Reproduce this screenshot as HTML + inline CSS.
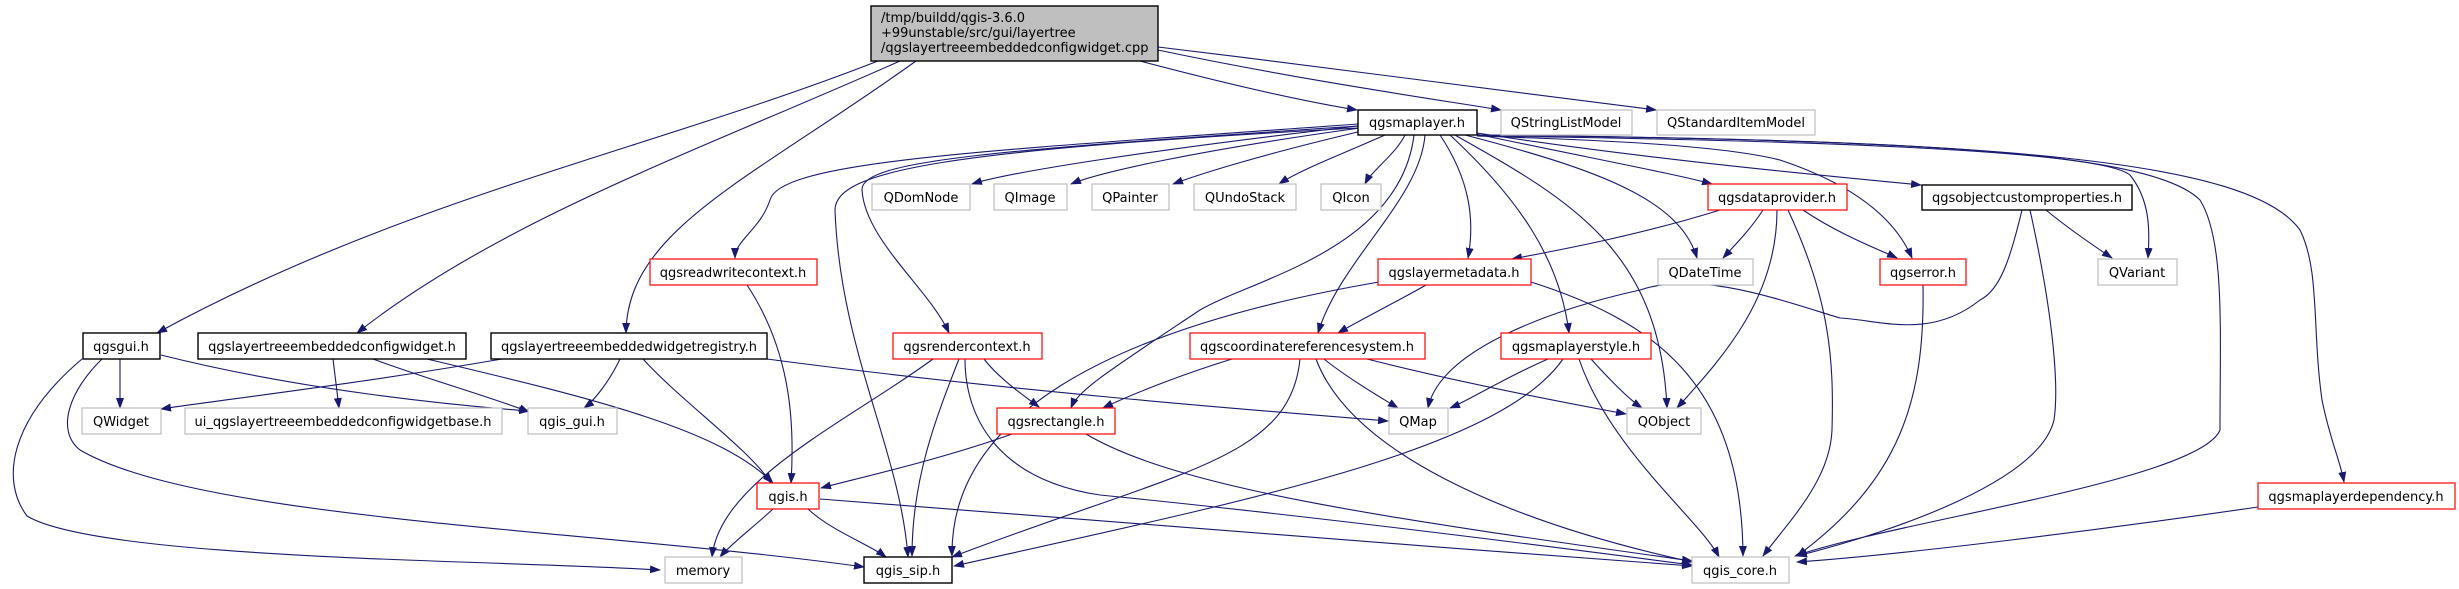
<!DOCTYPE html>
<html><head><meta charset="utf-8"><style>
html,body{margin:0;padding:0;background:#fff;width:2459px;height:589px;overflow:hidden}
svg{display:block}
text{font-family:"DejaVu Sans","Liberation Sans",sans-serif;font-size:13px;fill:#000;text-anchor:middle}
.e{fill:none;stroke:#191970;stroke-width:1.1}
.g{fill:#fff;stroke:#bfbfbf;stroke-width:1.2}
.r{fill:#fff;stroke:#ff0000;stroke-width:1.2}
.b{fill:#fff;stroke:#000;stroke-width:1.4}
</style></head><body>
<svg width="2459" height="589" viewBox="0 0 2459 589" xmlns="http://www.w3.org/2000/svg">
<defs><marker id="a" markerWidth="11" markerHeight="8" refX="10" refY="4" orient="auto" markerUnits="userSpaceOnUse"><path d="M0,0 L11,4 L0,8 z" fill="#191970"/></marker></defs>
<g class="e" marker-end="url(#a)">
<path d="M1140,61 C1250,90 1320,104 1357,110"/>
<path d="M1158,50 C1300,80 1440,100 1501,110"/>
<path d="M1158,47 C1350,70 1560,98 1656,110"/>
<path d="M878,61 C650,150 400,200 157,333"/>
<path d="M900,61 C700,150 500,220 357,333"/>
<path d="M916,61 C750,180 627,230 626,333"/>
<path d="M1358,126 C1150,150 1010,172 972,184"/>
<path d="M1360,128 C1200,150 1100,172 1071,184"/>
<path d="M1362,131 C1260,155 1200,174 1173,184"/>
<path d="M1385,135 C1340,155 1300,170 1279,184"/>
<path d="M1405,135 C1395,155 1372,170 1365,184"/>
<path d="M1358,124 C1000,150 780,160 770,200 C760,230 735,240 735,258"/>
<path d="M1358,126 C1000,150 860,160 862,190 C865,240 930,290 949,333"/>
<path d="M1358,128 C950,150 835,170 835,210 C840,350 900,450 908,557"/>
<path d="M1414,135 C1400,250 1250,280 1200,310 C1110,370 1078,390 1071,408"/>
<path d="M1425,135 C1420,200 1340,260 1318,333"/>
<path d="M1440,135 C1470,180 1475,220 1468,258"/>
<path d="M1450,135 C1520,200 1560,260 1569,333"/>
<path d="M1455,135 C1570,200 1660,250 1667,408"/>
<path d="M1465,135 C1600,170 1680,200 1697,258"/>
<path d="M1476,134 C1600,160 1680,175 1712,184"/>
<path d="M1477,133 C1650,160 1850,178 1921,185"/>
<path d="M1477,136 C1600,140 1720,145 1780,160 C1870,190 1900,230 1912,258"/>
<path d="M1477,136 C1800,140 2100,150 2130,175 C2150,200 2150,230 2148,258"/>
<path d="M1477,135 C1900,140 2150,150 2200,200 C2225,240 2220,330 2220,430 C2200,480 1900,520 1795,556"/>
<path d="M1477,135 C2000,140 2250,160 2300,230 C2320,270 2312,330 2322,400 C2330,440 2340,460 2344,482"/>
<path d="M1720,210 C1640,235 1560,250 1512,259"/>
<path d="M1763,210 C1750,230 1735,245 1723,258"/>
<path d="M1777,210 C1777,300 1720,360 1677,408"/>
<path d="M1788,210 C1830,300 1834,360 1832,430 C1830,480 1790,520 1763,556"/>
<path d="M1803,210 C1840,235 1880,250 1897,258"/>
<path d="M2022,210 C2010,260 2000,290 1980,300 C1930,340 1880,320 1840,318 C1780,300 1700,270 1640,290 C1550,310 1440,350 1428,408"/>
<path d="M2030,210 C2050,300 2060,380 2054,420 C2040,480 1900,530 1797,556"/>
<path d="M2046,210 C2070,230 2100,250 2112,258"/>
<path d="M1923,285 C1925,400 1900,480 1797,556"/>
<path d="M1379,282 C1100,330 950,420 952,556"/>
<path d="M1426,285 C1400,300 1360,320 1338,333"/>
<path d="M1531,282 C1650,320 1742,380 1743,556"/>
<path d="M933,359 C850,420 720,480 712,557"/>
<path d="M959,359 C935,420 912,480 912,556"/>
<path d="M984,359 C1000,380 1030,400 1039,407"/>
<path d="M965,359 C965,420 1000,480 1100,495 C1300,515 1500,540 1692,565"/>
<path d="M1232,359 C1180,375 1130,395 1103,408"/>
<path d="M1324,359 C1350,380 1385,400 1398,408"/>
<path d="M1367,359 C1450,380 1550,400 1626,414"/>
<path d="M1300,359 C1290,460 1180,470 952,557"/>
<path d="M1316,359 C1350,450 1500,520 1692,562"/>
<path d="M1548,359 C1500,380 1470,400 1450,408"/>
<path d="M1591,359 C1610,380 1630,400 1642,408"/>
<path d="M1563,359 C1500,450 1250,500 954,566"/>
<path d="M1579,359 C1610,450 1700,520 1719,557"/>
<path d="M1012,434 C940,460 850,480 821,488"/>
<path d="M1086,434 C1180,490 1400,520 1692,561"/>
<path d="M773,509 C750,530 730,545 720,557"/>
<path d="M808,509 C830,530 870,545 886,557"/>
<path d="M820,499 C1100,520 1400,545 1692,566"/>
<path d="M120,359 L120,408"/>
<path d="M161,355 C300,390 450,405 529,411"/>
<path d="M82,359 C10,420 0,480 27,516 C100,560 500,560 660,570"/>
<path d="M102,359 C70,390 55,430 80,450 C200,520 600,530 864,567"/>
<path d="M333,359 L339,408"/>
<path d="M373,359 C430,380 500,400 529,412"/>
<path d="M427,359 C600,400 720,430 773,483"/>
<path d="M502,359 C350,385 220,400 161,409"/>
<path d="M620,359 C610,380 595,400 584,408"/>
<path d="M643,359 C680,400 750,450 771,483"/>
<path d="M767,359 C1000,390 1250,410 1388,421"/>
<path d="M747,285 C790,350 795,420 791,483"/>
<path d="M2258,507 C2100,530 1900,555 1797,562"/>
</g>
<rect x="871" y="6" width="287" height="55" fill="#bfbfbf" stroke="#000" stroke-width="1.4"/>
<text x="881" y="22" style="text-anchor:start">/tmp/buildd/qgis-3.6.0</text>
<text x="881" y="37" style="text-anchor:start">+99unstable/src/gui/layertree</text>
<text x="881" y="52" style="text-anchor:start">/qgslayertreeembeddedconfigwidget.cpp</text>

<rect class="b" x="1358" y="110" width="119" height="25"/><text x="1417" y="127">qgsmaplayer.h</text>
<rect class="g" x="1501" y="110" width="131" height="25"/><text x="1566" y="127">QStringListModel</text>
<rect class="g" x="1657" y="110" width="158" height="25"/><text x="1736" y="127">QStandardItemModel</text>

<rect class="g" x="872" y="184" width="98" height="26"/><text x="921" y="202">QDomNode</text>
<rect class="g" x="994" y="184" width="73" height="26"/><text x="1030" y="202">QImage</text>
<rect class="g" x="1092" y="184" width="77" height="26"/><text x="1130" y="202">QPainter</text>
<rect class="g" x="1194" y="184" width="102" height="26"/><text x="1245" y="202">QUndoStack</text>
<rect class="g" x="1321" y="184" width="60" height="26"/><text x="1351" y="202">QIcon</text>
<rect class="r" x="1708" y="184" width="139" height="26"/><text x="1777" y="202">qgsdataprovider.h</text>
<rect class="b" x="1922" y="185" width="210" height="25"/><text x="2027" y="202">qgsobjectcustomproperties.h</text>

<rect class="r" x="650" y="259" width="167" height="26"/><text x="733" y="277">qgsreadwritecontext.h</text>
<rect class="r" x="1378" y="259" width="153" height="26"/><text x="1454" y="277">qgslayermetadata.h</text>
<rect class="g" x="1658" y="259" width="95" height="26"/><text x="1705" y="277">QDateTime</text>
<rect class="r" x="1880" y="259" width="86" height="26"/><text x="1923" y="277">qgserror.h</text>
<rect class="g" x="2098" y="259" width="79" height="26"/><text x="2137" y="277">QVariant</text>

<rect class="b" x="83" y="333" width="77" height="26"/><text x="121" y="351">qgsgui.h</text>
<rect class="b" x="198" y="333" width="268" height="26"/><text x="332" y="351">qgslayertreeembeddedconfigwidget.h</text>
<rect class="b" x="491" y="333" width="276" height="26"/><text x="629" y="351">qgslayertreeembeddedwidgetregistry.h</text>
<rect class="r" x="893" y="333" width="149" height="26"/><text x="967" y="351">qgsrendercontext.h</text>
<rect class="r" x="1190" y="333" width="235" height="26"/><text x="1307" y="351">qgscoordinatereferencesystem.h</text>
<rect class="r" x="1501" y="333" width="150" height="26"/><text x="1576" y="351">qgsmaplayerstyle.h</text>

<rect class="g" x="82" y="408" width="79" height="26"/><text x="121" y="426">QWidget</text>
<rect class="g" x="185" y="408" width="317" height="26"/><text x="343" y="426">ui_qgslayertreeembeddedconfigwidgetbase.h</text>
<rect class="g" x="528" y="408" width="89" height="26"/><text x="572" y="426">qgis_gui.h</text>
<rect class="r" x="997" y="408" width="118" height="26"/><text x="1056" y="426">qgsrectangle.h</text>
<rect class="g" x="1389" y="408" width="59" height="26"/><text x="1418" y="426">QMap</text>
<rect class="g" x="1627" y="408" width="74" height="26"/><text x="1664" y="426">QObject</text>

<rect class="r" x="757" y="483" width="62" height="26"/><text x="788" y="501">qgis.h</text>
<rect class="r" x="2258" y="483" width="197" height="26"/><text x="2356" y="501">qgsmaplayerdependency.h</text>

<rect class="g" x="665" y="557" width="77" height="26"/><text x="703" y="575">memory</text>
<rect class="b" x="864" y="557" width="88" height="26"/><text x="908" y="575">qgis_sip.h</text>
<rect class="g" x="1692" y="557" width="97" height="26"/><text x="1740" y="575">qgis_core.h</text>
</svg>
</body></html>
